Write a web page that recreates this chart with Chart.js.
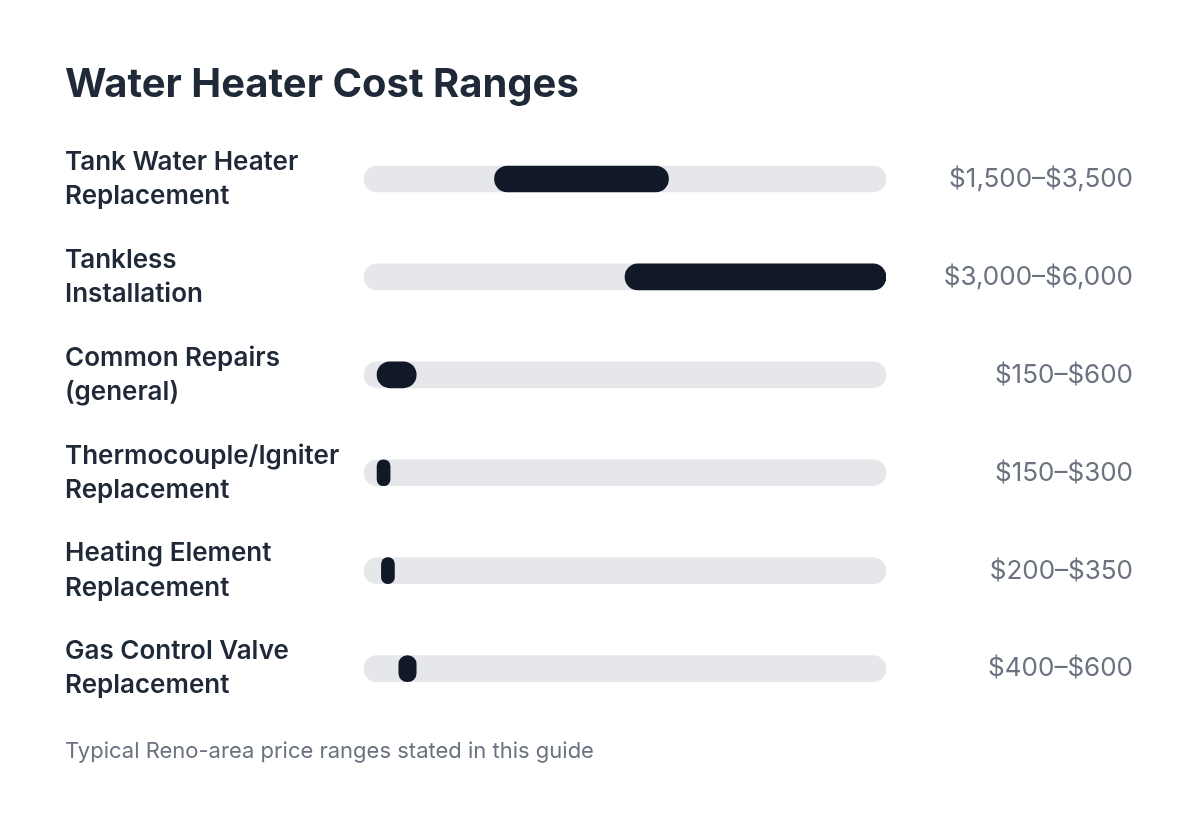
<!DOCTYPE html>
<html>
<head>
<meta charset="utf-8">
<script src="https://cdn.jsdelivr.net/npm/chart.js@4.4.1/dist/chart.umd.min.js"></script>
<style>
  html, body { margin: 0; padding: 0; background: #ffffff; }
  #wrap { width: 1200px; height: 823px; position: relative; }
</style>
</head>
<body>
<div id="wrap"><canvas id="c"></canvas></div>
<script>
const categories = [
  ["Tank Water Heater", "Replacement"],
  ["Tankless", "Installation"],
  ["Common Repairs", "(general)"],
  ["Thermocouple/Igniter", "Replacement"],
  ["Heating Element", "Replacement"],
  ["Gas Control Valve", "Replacement"]
];
const lowCost = [1500, 3000, 150, 150, 200, 400];
const highCost = [3500, 6000, 600, 300, 350, 600];
const rangeLabels = ["$1,500–$3,500", "$3,000–$6,000", "$150–$600", "$150–$300", "$200–$350", "$400–$600"];
const scaleMax = 6000;

const rangeData = lowCost.map((lo, i) => [lo, highCost[i]]);
const trackData = categories.map(() => [0, scaleMax]);

new Chart(document.getElementById('c'), {
  type: 'bar',
  data: {
    labels: categories,
    datasets: [
      {
        label: 'Cost range',
        data: rangeData,
        backgroundColor: '#111827',
        borderRadius: 13,
        borderSkipped: false,
        barThickness: 26,
        grouped: false,
        order: 0
      },
      {
        label: 'Track',
        data: trackData,
        backgroundColor: '#e5e7eb',
        borderRadius: 13,
        borderSkipped: false,
        barThickness: 26,
        grouped: false,
        order: 1
      }
    ]
  },
  options: {
    indexAxis: 'y',
    responsive: true,
    maintainAspectRatio: false,
    animation: false,
    layout: { padding: { left: 65, right: 67, top: 0, bottom: 0 } },
    plugins: {
      legend: { display: false },
      tooltip: { enabled: false },
      title: {
        display: true,
        text: 'Water Heater Cost Ranges',
        align: 'start',
        color: '#1f2937',
        font: { family: 'Inter', size: 40, weight: '700', lineHeight: 1.2 },
        padding: { top: 61, bottom: 21 }
      },
      subtitle: {
        display: true,
        position: 'bottom',
        text: 'Typical Reno-area price ranges stated in this guide',
        align: 'start',
        color: '#6b7280',
        font: { family: 'Inter', size: 22, weight: '400', lineHeight: 1.2 },
        padding: { top: 21, bottom: 58 }
      }
    },
    scales: {
      x: {
        display: false,
        min: 0,
        max: scaleMax
      },
      y: {
        position: 'left',
        offset: true,
        grid: { display: false },
        border: { display: false },
        ticks: {
          crossAlign: 'far',
          color: '#1f2937',
          font: { family: 'Inter', size: 26, weight: '600', lineHeight: 1.31 }
        },
        afterFit: (s) => { s.width = 299; }
      },
      y2: {
        type: 'category',
        position: 'right',
        labels: rangeLabels,
        offset: true,
        grid: { display: false },
        border: { display: false },
        ticks: {
          crossAlign: 'far',
          color: '#6b7280',
          font: { family: 'Inter', size: 26, weight: '400' }
        },
        afterFit: (s) => { s.width = 247; }
      }
    }
  }
});
</script>
</body>
</html>
